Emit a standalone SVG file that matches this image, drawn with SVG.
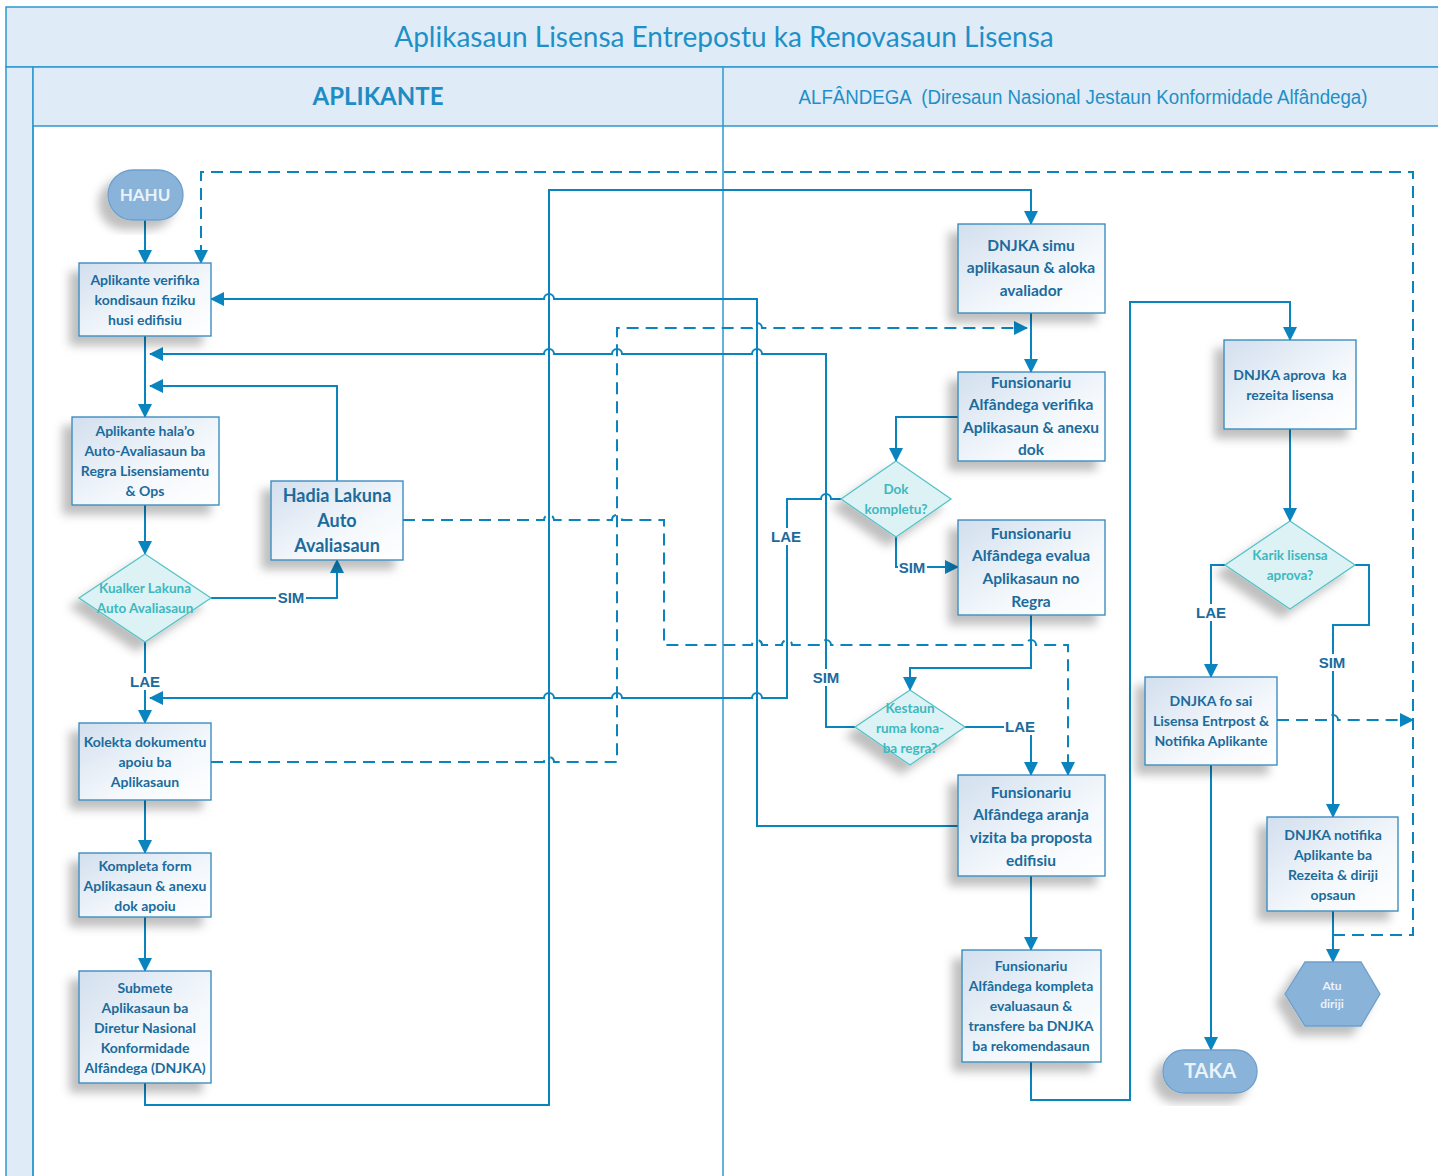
<svg xmlns="http://www.w3.org/2000/svg" width="1438" height="1176" viewBox="0 0 1438 1176">
<style>
.band{fill:#DFEBF7;stroke:#2E98CF;stroke-width:1.5}
.ln{fill:none;stroke:#0A84BF;stroke-width:2}
.dash{fill:none;stroke:#0A84BF;stroke-width:2;stroke-dasharray:12,7}
.box{fill:url(#bg);stroke:#2F86BA;stroke-width:1.3;filter:url(#sh)}
.dia{fill:#DDF2F4;stroke:#56C2C7;stroke-width:1.3;filter:url(#sh)}
.term{fill:#89B3D8;stroke:#6E9FCB;stroke-width:1.3;filter:url(#sh)}
.t{font-family:Lato,"Open Sans",sans-serif;font-weight:bold;fill:#1B6B9C;text-anchor:middle;font-size:14px}
.tb{font-family:Lato,"Open Sans",sans-serif;font-weight:bold;fill:#1B6B9C;text-anchor:middle;font-size:18px}
.tl{font-family:Lato,"Open Sans",sans-serif;font-weight:bold;fill:#1B6B9C;text-anchor:middle;font-size:15.5px}
.td{font-family:Lato,"Open Sans",sans-serif;font-weight:bold;fill:#3DB8BF;text-anchor:middle;font-size:13.5px}
.tw{font-family:Lato,"Open Sans",sans-serif;font-weight:bold;fill:#EAF2FA;text-anchor:middle}
.lab{font-family:"Liberation Sans",Arial,sans-serif;font-weight:bold;fill:#1B6B9C;font-size:15px;text-anchor:middle}
</style>
<defs>
<linearGradient id="bg" x1="0" y1="0" x2="1" y2="1">
<stop offset="0" stop-color="#D2DFEE"/><stop offset="0.6" stop-color="#F4F8FC"/><stop offset="1" stop-color="#FFFFFF"/>
</linearGradient>
<filter id="sh" x="-30%" y="-30%" width="160%" height="160%">
<feDropShadow dx="-9" dy="9" stdDeviation="5" flood-color="#000" flood-opacity="0.25"/>
</filter>
<marker id="ar" markerUnits="userSpaceOnUse" markerWidth="14" markerHeight="14" refX="13" refY="7" orient="auto">
<path d="M0,0 L14,7 L0,14 z" fill="#0A84BF"/>
</marker>
</defs>
<rect width="1438" height="1176" fill="#FFFFFF"/>
<g id="lanes">
<rect class="band" x="6" y="7" width="1440" height="60"/>
<rect class="band" x="6" y="67" width="27" height="1115"/>
<rect class="band" x="33" y="67" width="1410" height="59"/>
<line x1="33" y1="126" x2="33" y2="1176" stroke="#2E98CF" stroke-width="1.5"/>
<line x1="723" y1="67" x2="723" y2="1176" stroke="#2E98CF" stroke-width="1.5"/>
<text x="724" y="47" font-family="Lato,'Open Sans',sans-serif" font-size="28" fill="#1E90C8" text-anchor="middle">Aplikasaun Lisensa Entrepostu ka Renovasaun Lisensa</text>
<text x="378" y="105" font-family="Lato,'Open Sans',sans-serif" font-size="24" font-weight="bold" fill="#1E8CC4" text-anchor="middle">APLIKANTE</text>
<text x="1083" y="104" xml:space="preserve" font-family="'Liberation Sans',Arial,sans-serif" font-size="19.5" fill="#1E90C8" text-anchor="middle" textLength="569" lengthAdjust="spacingAndGlyphs">ALFÂNDEGA  (Diresaun Nasional Jestaun Konformidade Alfândega)</text>
</g>
<g id="connectors">
<path class="ln" d="M145,220 V263" marker-end="url(#ar)"/>
<path class="dash" d="M1333,935 H1413 V172 H201 V263" marker-end="url(#ar)"/>
<path class="ln" d="M145,336 V417" marker-end="url(#ar)"/>
<path class="ln" d="M855,727 H826 V354 H762 a5,5 0 0 0 -10,0 H622 a5,5 0 0 0 -10,0 H554 a5,5 0 0 0 -10,0 H150" marker-end="url(#ar)"/>
<path class="ln" d="M958,826 H757 V299 H554 a5,5 0 0 0 -10,0 H211" marker-end="url(#ar)"/>
<path class="ln" d="M145,505 V554" marker-end="url(#ar)"/>
<path class="ln" d="M211,598 H337 V560" marker-end="url(#ar)"/>
<path class="ln" d="M337,481 V386 H150" marker-end="url(#ar)"/>
<path class="ln" d="M145,642 V723" marker-end="url(#ar)"/>
<path class="ln" d="M841,499 H831 a5,5 0 0 0 -10,0 H787 V698 H762 a5,5 0 0 0 -10,0 H622 a5,5 0 0 0 -10,0 H554 a5,5 0 0 0 -10,0 H150" marker-end="url(#ar)"/>
<path class="dash" d="M403,520 H544 a5,5 0 0 1 10,0 H612 a5,5 0 0 1 10,0 H664 V645 H752 a5,5 0 0 1 10,0 H782 a5,5 0 0 1 10,0 H821 a5,5 0 0 1 10,0 H1026 a5,5 0 0 1 10,0 H1068 V775" marker-end="url(#ar)"/>
<path class="dash" d="M211,762 H544 a5,5 0 0 1 10,0 H617 V328 H752 a5,5 0 0 1 10,0 H1027" marker-end="url(#ar)"/>
<path class="ln" d="M145,800 V853" marker-end="url(#ar)"/>
<path class="ln" d="M145,917 V971" marker-end="url(#ar)"/>
<path class="ln" d="M145,1083 V1105 H549 V190 H1031 V224" marker-end="url(#ar)"/>
<path class="ln" d="M1031,313 V372" marker-end="url(#ar)"/>
<path class="ln" d="M958,417 H896 V461" marker-end="url(#ar)"/>
<path class="ln" d="M896,537 V567 H958" marker-end="url(#ar)"/>
<path class="ln" d="M1031,615 V668 H910 V690" marker-end="url(#ar)"/>
<path class="ln" d="M965,727 H1031 V775" marker-end="url(#ar)"/>
<path class="ln" d="M1031,876 V950" marker-end="url(#ar)"/>
<path class="ln" d="M1031,1062 V1100 H1130 V302 H1290 V340" marker-end="url(#ar)"/>
<path class="ln" d="M1290,429 V521" marker-end="url(#ar)"/>
<path class="ln" d="M1225,565 H1211 V677" marker-end="url(#ar)"/>
<path class="ln" d="M1355,565 H1369 V625 H1333 V817" marker-end="url(#ar)"/>
<path class="ln" d="M1211,765 V1050" marker-end="url(#ar)"/>
<path class="dash" d="M1277,720 H1328 a5,5 0 0 1 10,0 H1413" marker-end="url(#ar)"/>
<path class="ln" d="M1333,911 V962" marker-end="url(#ar)"/>
<g id="labels">
<rect x="276" y="589" width="30" height="17" fill="#fff"/><text class="lab" x="291" y="603">SIM</text>
<rect x="129" y="673" width="32" height="17" fill="#fff"/><text class="lab" x="145" y="687">LAE</text>
<rect x="770" y="528" width="32" height="17" fill="#fff"/><text class="lab" x="786" y="542">LAE</text>
<rect x="898" y="559" width="29" height="17" fill="#fff"/><text class="lab" x="912" y="573">SIM</text>
<rect x="812" y="669" width="29" height="17" fill="#fff"/><text class="lab" x="826" y="683">SIM</text>
<rect x="1004" y="718" width="32" height="17" fill="#fff"/><text class="lab" x="1020" y="732">LAE</text>
<rect x="1195" y="604" width="32" height="17" fill="#fff"/><text class="lab" x="1211" y="618">LAE</text>
<rect x="1318" y="654" width="29" height="17" fill="#fff"/><text class="lab" x="1332" y="668">SIM</text>
</g>
</g>
<g id="n-hahu"><rect class="term" x="108" y="170" width="75" height="50" rx="25"/><text class="tw" x="145" y="201" font-size="17">HAHU</text></g>
<g id="n-verifika"><rect class="box" x="79" y="263" width="132" height="73"/>
<text class="t" x="145" y="285">Aplikante verifika</text><text class="t" x="145" y="305">kondisaun fiziku</text><text class="t" x="145" y="325">husi edifisiu</text></g>
<g id="n-auto"><rect class="box" x="72" y="417" width="147" height="88"/>
<text class="t" x="145" y="436">Aplikante hala’o</text><text class="t" x="145" y="456">Auto-Avaliasaun ba</text><text class="t" x="145" y="476">Regra Lisensiamentu</text><text class="t" x="145" y="496">&amp; Ops</text></g>
<g id="n-kualker"><polygon class="dia" points="145,554 211,598 145,642 79,598"/>
<text class="td" x="145" y="593">Kualker Lakuna</text><text class="td" x="145" y="613">Auto Avaliasaun</text></g>
<g id="n-hadia"><rect class="box" x="271" y="481" width="132" height="79"/>
<text class="tb" x="337" y="502">Hadia Lakuna</text><text class="tb" x="337" y="527">Auto</text><text class="tb" x="337" y="552">Avaliasaun</text></g>
<g id="n-kolekta"><rect class="box" x="79" y="723" width="132" height="77"/>
<text class="t" x="145" y="747">Kolekta dokumentu</text><text class="t" x="145" y="767">apoiu ba</text><text class="t" x="145" y="787">Aplikasaun</text></g>
<g id="n-kompleta"><rect class="box" x="79" y="853" width="132" height="64"/>
<text class="t" x="145" y="871">Kompleta form</text><text class="t" x="145" y="891">Aplikasaun &amp; anexu</text><text class="t" x="145" y="911">dok apoiu</text></g>
<g id="n-submete"><rect class="box" x="79" y="971" width="132" height="112"/>
<text class="t" x="145" y="993">Submete</text><text class="t" x="145" y="1013">Aplikasaun ba</text><text class="t" x="145" y="1033">Diretur Nasional</text><text class="t" x="145" y="1053">Konformidade</text><text class="t" x="145" y="1073">Alfândega (DNJKA)</text></g>
<g id="n-simu"><rect class="box" x="958" y="224" width="147" height="89"/>
<text class="tl" x="1031" y="251">DNJKA simu</text><text class="tl" x="1031" y="273">aplikasaun &amp; aloka</text><text class="tl" x="1031" y="296">avaliador</text></g>
<g id="n-fverifika"><rect class="box" x="958" y="372" width="147" height="89"/>
<text class="tl" x="1031" y="388">Funsionariu</text><text class="tl" x="1031" y="410">Alfândega verifika</text><text class="tl" x="1031" y="433">Aplikasaun &amp; anexu</text><text class="tl" x="1031" y="455">dok</text></g>
<g id="n-dok"><polygon class="dia" points="896,461 951,499 896,537 841,499"/>
<text class="td" x="896" y="494">Dok</text><text class="td" x="896" y="514">kompletu?</text></g>
<g id="n-evalua"><rect class="box" x="958" y="520" width="147" height="95"/>
<text class="tl" x="1031" y="539">Funsionariu</text><text class="tl" x="1031" y="561">Alfândega evalua</text><text class="tl" x="1031" y="584">Aplikasaun no</text><text class="tl" x="1031" y="607">Regra</text></g>
<g id="n-kestaun"><polygon class="dia" points="910,690 965,727 910,765 855,727"/>
<text class="td" x="910" y="713">Kestaun</text><text class="td" x="910" y="733">ruma kona-</text><text class="td" x="910" y="753">ba regra?</text></g>
<g id="n-aranja"><rect class="box" x="958" y="775" width="147" height="101"/>
<text class="tl" x="1031" y="798">Funsionariu</text><text class="tl" x="1031" y="820">Alfândega aranja</text><text class="tl" x="1031" y="843">vizita ba proposta</text><text class="tl" x="1031" y="866">edifisiu</text></g>
<g id="n-kompletaeval"><rect class="box" x="962" y="950" width="139" height="112"/>
<text class="t" x="1031" y="971">Funsionariu</text><text class="t" x="1031" y="991">Alfândega kompleta</text><text class="t" x="1031" y="1011">evaluasaun &amp;</text><text class="t" x="1031" y="1031">transfere ba DNJKA</text><text class="t" x="1031" y="1051">ba rekomendasaun</text></g>
<g id="n-aprova"><rect class="box" x="1224" y="340" width="132" height="89"/>
<text class="t" x="1290" y="380" xml:space="preserve">DNJKA aprova  ka</text><text class="t" x="1290" y="400">rezeita lisensa</text></g>
<g id="n-karik"><polygon class="dia" points="1290,521 1355,565 1290,609 1225,565"/>
<text class="td" x="1290" y="560">Karik lisensa</text><text class="td" x="1290" y="580">aprova?</text></g>
<g id="n-fosai"><rect class="box" x="1145" y="677" width="132" height="88"/>
<text class="t" x="1211" y="706">DNJKA fo sai</text><text class="t" x="1211" y="726">Lisensa Entrpost &amp;</text><text class="t" x="1211" y="746">Notifika Aplikante</text></g>
<g id="n-notifika"><rect class="box" x="1267" y="817" width="131" height="94"/>
<text class="t" x="1333" y="840">DNJKA notifika</text><text class="t" x="1333" y="860">Aplikante ba</text><text class="t" x="1333" y="880">Rezeita &amp; diriji</text><text class="t" x="1333" y="900">opsaun</text></g>
<g id="n-taka"><rect class="term" x="1163" y="1050" width="94" height="43" rx="21"/><text class="tw" x="1210" y="1078" font-size="20">TAKA</text></g>
<g id="n-atu"><polygon class="term" points="1305,962 1361,962 1380,994 1361,1026 1305,1026 1285,994"/><text class="tw" x="1332" y="990" font-size="12">Atu</text><text class="tw" x="1332" y="1008" font-size="12">diriji</text></g>
</svg>
